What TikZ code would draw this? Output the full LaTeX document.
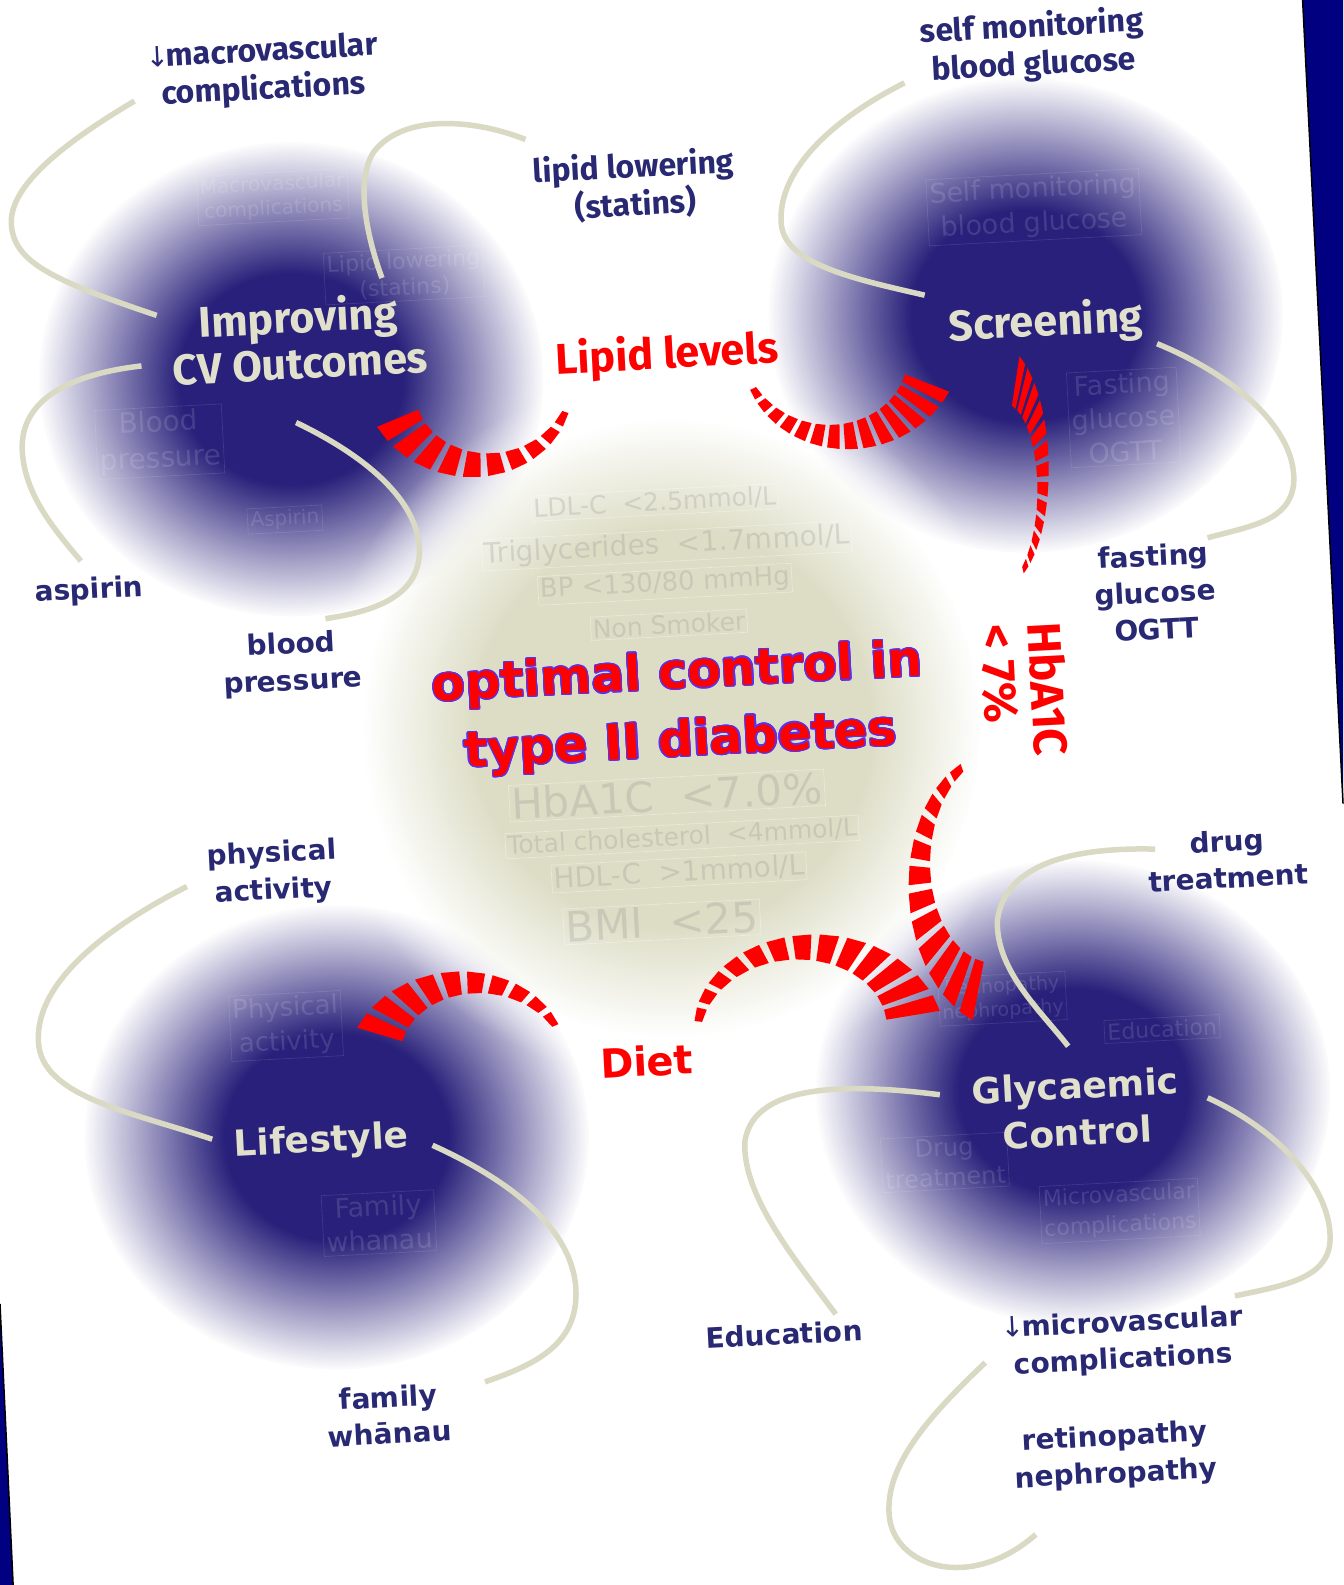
\documentclass[tikz,border=0pt]{standalone}
\usepackage{fontspec}
\setmainfont{DejaVu Sans}
\newfontfamily\vfont{DejaVu Sans}
\newfontfamily\ffont{Fira Sans}
\usepackage{contour}
\contourlength{1.2pt}
\usetikzlibrary{fadings}
\definecolor{navytext}{RGB}{40,40,115}
\definecolor{blobc}{RGB}{40,32,122}
\definecolor{beigec}{RGB}{221,221,198}
\definecolor{curvec}{RGB}{218,218,196}
\definecolor{headc}{RGB}{224,224,204}
\definecolor{outl}{RGB}{90,50,235}
\definecolor{pagenavy}{RGB}{0,0,128}
\pgfdeclareradialshading{blobsh}{\pgfpointorigin}{color(0bp)=(pgftransparent!0); color(11bp)=(pgftransparent!0); color(25bp)=(pgftransparent!100); color(50bp)=(pgftransparent!100)}
\pgfdeclareradialshading{halosh}{\pgfpointorigin}{color(0bp)=(pgftransparent!0); color(18bp)=(pgftransparent!0); color(25bp)=(pgftransparent!100); color(50bp)=(pgftransparent!100)}
\pgfdeclareradialshading{coresh}{\pgfpointorigin}{color(0bp)=(pgftransparent!0); color(16bp)=(pgftransparent!0); color(25bp)=(pgftransparent!100); color(50bp)=(pgftransparent!100)}
\pgfdeclarefading{blobfade}{\pgfuseshading{blobsh}}
\pgfdeclarefading{halofade}{\pgfuseshading{halosh}}
\pgfdeclarefading{corefade}{\pgfuseshading{coresh}}
% tapered striped arc: cx cy rx ry a1(thick) a2(thin) n
\newcommand\redarc[7]{%
  \begin{scope}[shift={(#1,#2)},xscale=#3,yscale=#4]
  \foreach \i in {1,...,#7}{%
    \pgfmathsetmacro\ta{#5+(#6-#5)*(\i-1)/#7}
    \pgfmathsetmacro\tb{#5+(#6-#5)*(\i-0.3)/#7}
    \pgfmathsetmacro\ha{0.25-0.22*(\i-1)/#7}
    \pgfmathsetmacro\hb{0.25-0.22*(\i-0.3)/#7}
    \pgfmathsetmacro\ria{1-\ha}
    \pgfmathsetmacro\roa{1+\ha}
    \pgfmathsetmacro\rib{1-\hb}
    \pgfmathsetmacro\rob{1+\hb}
    \fill[red] (\ta:\ria) -- (\ta:\roa) -- (\tb:\rob) -- (\tb:\rib) -- cycle;
  }
  \end{scope}}
\begin{document}
\begin{tikzpicture}[x=1.01054pt,y=-1.01084pt,
  curve/.style={draw=curvec,line width=5.5pt},
  lab/.style={font=\vfont\bfseries\fontsize{28}{37}\selectfont,text=navytext,align=center,rotate=3,inner sep=0pt},
  flab/.style={font=\ffont\bfseries\fontsize{32}{38}\selectfont,text=navytext,align=center,rotate=3,inner sep=0pt},
  head/.style={font=\ffont\bfseries\fontsize{43}{46}\selectfont,text=headc,align=center,rotate=3,inner sep=0pt},
  vhead/.style={font=\vfont\bfseries\fontsize{36}{47}\selectfont,text=headc,align=center,rotate=3,inner sep=0pt},
  ghost/.style={font=\vfont\fontsize{24}{28}\selectfont,text=white,text opacity=0.13,align=center,rotate=3,draw=white,draw opacity=0.13,line width=0.6pt,inner sep=3pt},
  cghost/.style={font=\vfont\fontsize{26}{30}\selectfont,text=black!45,text opacity=0.25,rotate=3,draw=white,draw opacity=0.4,line width=0.6pt,inner sep=2pt},
]
\useasboundingbox (0,0) rectangle (1329,1568);
\fill[white] (0,0) rectangle (1329,1568);
% page edges
\fill[pagenavy] (1289,0) -- (1329,0) -- (1329,795) -- cycle;
\draw[black,line width=1.5pt] (1289,0) -- (1329,795);
\fill[pagenavy] (0,1290) -- (13,1568) -- (0,1568) -- cycle;
\draw[black,line width=1.5pt] (0,1290) -- (13,1568);
% blobs
\fill[blobc,path fading=blobfade] (288,375) ellipse [x radius=250,y radius=235];
\fill[blobc,path fading=blobfade] (1015,312) ellipse [x radius=255,y radius=235];
\fill[blobc,path fading=blobfade] (333,1125) ellipse [x radius=250,y radius=230];
\fill[blobc,path fading=blobfade] (1062,1080) ellipse [x radius=255,y radius=230];
% centre
\fill[white,path fading=halofade] (665,720) circle (350);
\fill[beigec,path fading=corefade] (665,720) circle (305);
% ghost texts in blobs
\node[ghost,font=\vfont\fontsize{20}{24}\selectfont] (g1) at (270,195) {Macrovascular\\complications};
\node[ghost,font=\vfont\fontsize{22}{26}\selectfont] (g2) at (400,272) {Lipid lowering\\(statins)};
\node[ghost,font=\vfont\fontsize{28}{36}\selectfont] (g3) at (158,437) {Blood\\pressure};
\node[ghost,font=\vfont\fontsize{20}{24}\selectfont] (g4) at (282,514) {Aspirin};
\node[ghost,font=\vfont\fontsize{27}{34}\selectfont] (g5) at (1023,205) {Self monitoring\\blood glucose};
\node[ghost,font=\vfont\fontsize{27}{34}\selectfont] (g6) at (1112,413) {Fasting\\glucose\\OGTT};
\node[ghost,font=\vfont\fontsize{26}{34}\selectfont] (g7) at (283,1015) {Physical\\activity};
\node[ghost,font=\vfont\fontsize{27}{34}\selectfont] (g8) at (375,1210) {Family\\whanau};
\node[ghost,font=\vfont\fontsize{19}{24}\selectfont] (g9) at (992,988) {Retinopathy\\nephropathy};
\node[ghost,font=\vfont\fontsize{22}{26}\selectfont] (g10) at (1150,1018) {Education};
\node[ghost,font=\vfont\fontsize{24}{30}\selectfont] (g11) at (935,1150) {Drug\\treatment};
\node[ghost,font=\vfont\fontsize{22}{30}\selectfont] (g12) at (1108,1198) {Microvascular\\complications};
% ghost texts in centre
\node[cghost,font=\vfont\fontsize{25}{30}\selectfont] (k1) at (648,497) {LDL-C \ <2.5mmol/L};
\node[cghost,font=\vfont\fontsize{28}{30}\selectfont] (k2) at (660,540) {Triglycerides \ <1.7mmol/L};
\node[cghost,font=\vfont\fontsize{26}{30}\selectfont] (k3) at (658,578) {BP <130/80 mmHg};
\node[cghost,font=\vfont\fontsize{25}{30}\selectfont] (k4) at (662,618) {Non Smoker};
\node[cghost,font=\vfont\fontsize{42}{44}\selectfont] (k5) at (660,787) {HbA1C \ <7.0\%};
\node[cghost,font=\vfont\fontsize{25}{30}\selectfont] (k6) at (675,828) {Total cholesterol \ <4mmol/L};
\node[cghost,font=\vfont\fontsize{28}{30}\selectfont] (k7) at (672,863) {HDL-C \ >1mmol/L};
\node[cghost,font=\vfont\fontsize{42}{44}\selectfont] (k8) at (655,912) {BMI \ <25};
% labels
\node[flab] (mac) at (260,71) {{\vfont\mdseries\fontsize{28}{38}\selectfont ↓}\kern-3pt macrovascular\\complications};
\node[flab] (lip) at (628,184) {lipid lowering\\(statins)};
\node[flab] (smbg) at (1022,46) {self monitoring\\blood glucose};
\node[head] (cv) at (296,335) {Improving\\CV Outcomes};
\node[head] (scr) at (1035,320) {Screening};
\node[head,text=red] (lipl) at (660,352) {Lipid levels};
\node[lab] (fast) at (1143,586) {fasting\\glucose\\OGTT};
\node[lab] (asp) at (88,585) {aspirin};
\node[lab] (bp) at (289,657) {blood\\pressure};
\node[font=\vfont\bfseries\fontsize{49}{68}\selectfont,text=red,align=center,rotate=3,inner sep=0pt] (title) at (672,702) {\contour{outl}{optimal control in}\\\contour{outl}{type II diabetes}};
\node[font=\ffont\bfseries\fontsize{47}{47}\selectfont,text=red,align=left,rotate=-87,inner sep=0pt] (hba) at (1014,683) {HbA1C\\< 7\%};
\node[lab] (phys) at (270,864) {physical\\activity};
\node[vhead] (life) at (318,1130) {Lifestyle};
\node[vhead,text=red,font=\vfont\bfseries\fontsize{40}{46}\selectfont] (diet) at (640,1050) {Diet};
\node[lab] (fam) at (385,1400) {family\\whānau};
\node[lab] (drug) at (1215,850) {drug\\treatment};
\node[vhead] (glyc) at (1065,1097) {Glycaemic\\Control};
\node[lab] (edu) at (776,1320) {Education};
\node[lab] (micro) at (1111,1328) {{\mdseries ↓}\kern-3pt microvascular\\complications};
\node[lab] (ret) at (1104,1441) {retinopathy\\nephropathy};
% curve ends
\coordinate (c1a) at (133,100); \coordinate (c1b) at (155,312);
\coordinate (c2a) at (520,138); \coordinate (c2b) at (378,275);
\coordinate (c3a) at (140,362); \coordinate (c3b) at (80,555);
\coordinate (c4a) at (293,418); \coordinate (c4b) at (322,612);
\coordinate (c5a) at (895,82); \coordinate (c5b) at (915,292);
\coordinate (c6a) at (1145,340); \coordinate (c6b) at (1195,532);
\coordinate (c7a) at (185,877); \coordinate (c7b) at (210,1127);
\coordinate (c8a) at (428,1133); \coordinate (c8b) at (480,1367);
\coordinate (c9a) at (1143,840); \coordinate (c9b) at (1057,1035);
\coordinate (c10a) at (930,1083); \coordinate (c10b) at (827,1300);
\coordinate (c11a) at (1195,1086); \coordinate (c11b) at (1222,1282);
\coordinate (c12a) at (975,1348); \coordinate (c12b) at (1025,1518);
\draw[curve] (c1a) .. controls (40,155) and (5,195) .. (12,228) .. controls (18,262) and (60,280) .. (c1b);
\draw[curve] (c2a) .. controls (470,118) and (400,112) .. (370,150) .. controls (350,180) and (365,240) .. (c2b);
\draw[curve] (c3a) .. controls (70,370) and (20,395) .. (22,445) .. controls (24,490) and (55,525) .. (c3b);
\draw[curve] (c4a) .. controls (370,455) and (415,500) .. (415,545) .. controls (415,590) and (370,605) .. (c4b);
\draw[curve] (c5a) .. controls (820,120) and (770,170) .. (773,220) .. controls (775,260) and (840,275) .. (c5b);
\draw[curve] (c6a) .. controls (1230,375) and (1285,430) .. (1280,480) .. controls (1275,515) and (1240,520) .. (c6b);
\draw[curve] (c7a) .. controls (110,915) and (35,970) .. (38,1030) .. controls (40,1085) and (130,1100) .. (c7b);
\draw[curve] (c8a) .. controls (510,1170) and (570,1220) .. (570,1280) .. controls (570,1330) and (530,1350) .. (c8b);
\draw[curve] (c9a) .. controls (1060,838) and (995,855) .. (987,910) .. controls (985,960) and (1030,1000) .. (c9b);
\draw[curve] (c10a) .. controls (850,1073) and (745,1068) .. (737,1130) .. controls (735,1185) and (790,1250) .. (c10b);
\draw[curve] (c11a) .. controls (1270,1120) and (1320,1180) .. (1316,1230) .. controls (1312,1265) and (1270,1272) .. (c11b);
\draw[curve] (c12a) .. controls (920,1400) and (875,1450) .. (880,1500) .. controls (885,1550) and (960,1575) .. (c12b);
% red tapered arcs
\redarc{475}{380}{90}{80}{155}{16}{10}
\redarc{830}{345}{95}{87}{23}{156}{14}
\redarc{990}{475}{42}{105}{-69}{61}{13}
\redarc{990}{865}{80}{120}{106}{245}{12}
\redarc{798}{1022}{108}{85}{348}{184}{13}
\redarc{465}{1050}{95}{78}{200}{337}{10}
\end{tikzpicture}
\end{document}
